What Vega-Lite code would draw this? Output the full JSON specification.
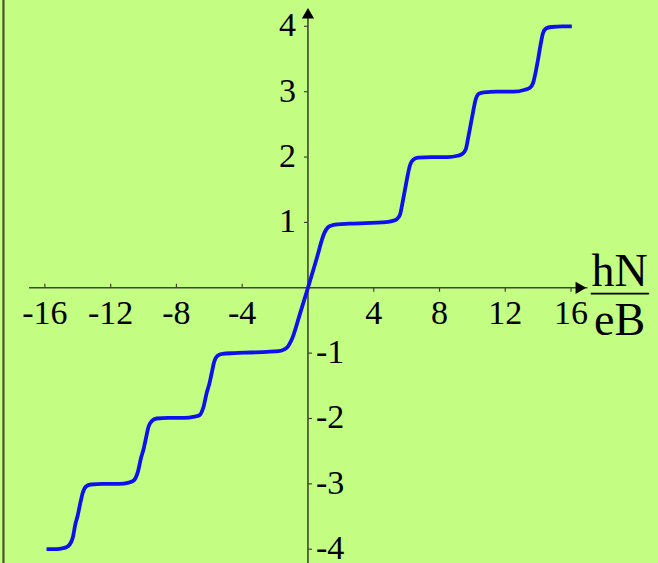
{
  "$schema": "https://vega.github.io/schema/vega-lite/v6.json",
  "width": 658,
  "height": 563,
  "autosize": "none",
  "padding": 0,
  "background": "#c3fd82",
  "config": {"view": {"stroke": null}, "font": "Liberation Serif"},
  "datasets": {
    "curve": [
      {"x": -15.9, "y": -4.0}, {"x": -15.5, "y": -4.0}, {"x": -15.0, "y": -3.99}, {"x": -14.7, "y": -3.97},
      {"x": -14.5, "y": -3.93}, {"x": -14.3, "y": -3.82}, {"x": -14.15, "y": -3.62}, {"x": -14.0, "y": -3.48},
      {"x": -13.85, "y": -3.3}, {"x": -13.7, "y": -3.14}, {"x": -13.5, "y": -3.04}, {"x": -13.2, "y": -3.01},
      {"x": -12.5, "y": -3.0}, {"x": -11.5, "y": -3.0}, {"x": -10.9, "y": -2.98},
      {"x": -10.6, "y": -2.95}, {"x": -10.35, "y": -2.82}, {"x": -10.15, "y": -2.6}, {"x": -10.0, "y": -2.47},
      {"x": -9.85, "y": -2.3}, {"x": -9.7, "y": -2.13}, {"x": -9.5, "y": -2.04}, {"x": -9.2, "y": -2.0},
      {"x": -8.5, "y": -1.99}, {"x": -7.5, "y": -1.99}, {"x": -6.9, "y": -1.97},
      {"x": -6.6, "y": -1.95}, {"x": -6.35, "y": -1.82}, {"x": -6.15, "y": -1.6}, {"x": -6.0, "y": -1.47},
      {"x": -5.85, "y": -1.3}, {"x": -5.7, "y": -1.13}, {"x": -5.5, "y": -1.04}, {"x": -5.2, "y": -1.01},
      {"x": -4.5, "y": -1.0}, {"x": -3.5, "y": -0.99}, {"x": -2.5, "y": -0.98}, {"x": -1.8, "y": -0.97},
      {"x": -1.5, "y": -0.95}, {"x": -1.3, "y": -0.92}, {"x": -1.15, "y": -0.87}, {"x": -1.0, "y": -0.8},
      {"x": -0.5, "y": -0.41}, {"x": 0.0, "y": 0.0}, {"x": 0.5, "y": 0.42}, {"x": 1.0, "y": 0.84},
      {"x": 1.2, "y": 0.92}, {"x": 1.4, "y": 0.95}, {"x": 1.8, "y": 0.97}, {"x": 2.5, "y": 0.98},
      {"x": 3.5, "y": 0.99}, {"x": 4.5, "y": 1.0}, {"x": 5.1, "y": 1.02},
      {"x": 5.4, "y": 1.05}, {"x": 5.6, "y": 1.12}, {"x": 5.75, "y": 1.3}, {"x": 5.9, "y": 1.5},
      {"x": 6.05, "y": 1.7}, {"x": 6.2, "y": 1.87}, {"x": 6.4, "y": 1.96}, {"x": 6.7, "y": 1.99},
      {"x": 7.5, "y": 2.0}, {"x": 8.5, "y": 2.0}, {"x": 9.1, "y": 2.02},
      {"x": 9.4, "y": 2.05}, {"x": 9.6, "y": 2.12}, {"x": 9.75, "y": 2.3}, {"x": 9.9, "y": 2.5},
      {"x": 10.05, "y": 2.7}, {"x": 10.2, "y": 2.88}, {"x": 10.4, "y": 2.97}, {"x": 10.7, "y": 2.99},
      {"x": 11.5, "y": 3.0}, {"x": 12.5, "y": 3.0}, {"x": 13.2, "y": 3.03},
      {"x": 13.5, "y": 3.06}, {"x": 13.7, "y": 3.14}, {"x": 13.85, "y": 3.3}, {"x": 14.0, "y": 3.5},
      {"x": 14.15, "y": 3.72}, {"x": 14.3, "y": 3.9}, {"x": 14.5, "y": 3.97}, {"x": 14.8, "y": 3.99},
      {"x": 15.5, "y": 4.0}, {"x": 16.05, "y": 4.0}
    ],
    "xneg": [{"v": -16, "label": "-16"}, {"v": -12, "label": "-12"}, {"v": -8, "label": "-8"}, {"v": -4, "label": "-4"}],
    "xpos": [{"v": 4, "label": "4"}, {"v": 8, "label": "8"}, {"v": 12, "label": "12"}, {"v": 16, "label": "16"}],
    "ypos": [{"v": 1, "label": "1"}, {"v": 2, "label": "2"}, {"v": 3, "label": "3"}, {"v": 4, "label": "4"}],
    "yneg": [{"v": -1, "label": "-1"}, {"v": -2, "label": "-2"}, {"v": -3, "label": "-3"}, {"v": -4, "label": "-4"}]
  },
  "layer": [
    {
      "data": {"values": [{}]},
      "mark": {"type": "rule", "color": "#4a5630", "strokeWidth": 2.2},
      "encoding": {
        "x": {"datum": -18.52, "type": "quantitative", "scale": {"domain": [-18.73, 21.29], "nice": false, "zero": false}, "axis": null},
        "y": {"datum": -4.211, "type": "quantitative", "scale": {"domain": [-4.211, 4.403], "nice": false, "zero": false}, "axis": null},
        "y2": {"datum": 4.403}
      }
    },
    {
      "data": {"values": [{}]},
      "mark": {"type": "rule", "color": "#3f4630", "strokeWidth": 1.6},
      "encoding": {
        "x": {"datum": -16.96, "type": "quantitative"},
        "x2": {"datum": 17.0},
        "y": {"datum": 0, "type": "quantitative"}
      }
    },
    {
      "data": {"values": [{}]},
      "mark": {"type": "rule", "color": "#3f4630", "strokeWidth": 1.6},
      "encoding": {
        "x": {"datum": 0, "type": "quantitative"},
        "y": {"datum": -4.211, "type": "quantitative"},
        "y2": {"datum": 4.2}
      }
    },
    {
      "data": {"values": [{}]},
      "mark": {"type": "point", "shape": "triangle-right", "filled": true, "color": "#000000", "size": 150, "opacity": 1},
      "encoding": {
        "x": {"datum": 16.6, "type": "quantitative"},
        "y": {"datum": 0, "type": "quantitative"}
      }
    },
    {
      "data": {"values": [{}]},
      "mark": {"type": "point", "shape": "triangle-up", "filled": true, "color": "#000000", "size": 150, "opacity": 1},
      "encoding": {
        "x": {"datum": 0, "type": "quantitative"},
        "y": {"datum": 4.2, "type": "quantitative"}
      }
    },
    {
      "data": {"name": "xneg"},
      "mark": {"type": "rule", "color": "#3f4630", "strokeWidth": 1.2, "y2Offset": -4},
      "encoding": {
        "x": {"field": "v", "type": "quantitative"},
        "y": {"datum": 0, "type": "quantitative"},
        "y2": {"datum": 0}
      }
    },
    {
      "data": {"name": "xpos"},
      "mark": {"type": "rule", "color": "#3f4630", "strokeWidth": 1.2, "y2Offset": 4},
      "encoding": {
        "x": {"field": "v", "type": "quantitative"},
        "y": {"datum": 0, "type": "quantitative"},
        "y2": {"datum": 0}
      }
    },
    {
      "data": {"name": "ypos"},
      "mark": {"type": "rule", "color": "#3f4630", "strokeWidth": 1.2, "x2Offset": -4},
      "encoding": {
        "y": {"field": "v", "type": "quantitative"},
        "x": {"datum": 0, "type": "quantitative"},
        "x2": {"datum": 0}
      }
    },
    {
      "data": {"name": "yneg"},
      "mark": {"type": "rule", "color": "#3f4630", "strokeWidth": 1.2, "x2Offset": 4},
      "encoding": {
        "y": {"field": "v", "type": "quantitative"},
        "x": {"datum": 0, "type": "quantitative"},
        "x2": {"datum": 0}
      }
    },
    {
      "data": {"name": "curve"},
      "mark": {"type": "line", "color": "#0f10ee", "strokeWidth": 3.8, "interpolate": "monotone"},
      "encoding": {
        "x": {"field": "x", "type": "quantitative"},
        "y": {"field": "y", "type": "quantitative"}
      }
    },
    {
      "data": {"name": "xneg"},
      "mark": {"type": "text", "font": "Liberation Serif", "fontSize": 34, "color": "#000000", "align": "center", "baseline": "alphabetic", "dy": 36},
      "encoding": {
        "x": {"field": "v", "type": "quantitative"},
        "y": {"datum": 0, "type": "quantitative"},
        "text": {"field": "label"}
      }
    },
    {
      "data": {"name": "xpos"},
      "mark": {"type": "text", "font": "Liberation Serif", "fontSize": 34, "color": "#000000", "align": "center", "baseline": "alphabetic", "dy": 36},
      "encoding": {
        "x": {"field": "v", "type": "quantitative"},
        "y": {"datum": 0, "type": "quantitative"},
        "text": {"field": "label"}
      }
    },
    {
      "data": {"name": "ypos"},
      "mark": {"type": "text", "font": "Liberation Serif", "fontSize": 34, "color": "#000000", "align": "right", "baseline": "middle", "dx": -12},
      "encoding": {
        "y": {"field": "v", "type": "quantitative"},
        "x": {"datum": 0, "type": "quantitative"},
        "text": {"field": "label"}
      }
    },
    {
      "data": {"name": "yneg"},
      "mark": {"type": "text", "font": "Liberation Serif", "fontSize": 34, "color": "#000000", "align": "left", "baseline": "middle", "dx": 8},
      "encoding": {
        "y": {"field": "v", "type": "quantitative"},
        "x": {"datum": 0, "type": "quantitative"},
        "text": {"field": "label"}
      }
    },
    {
      "data": {"values": [{}]},
      "mark": {"type": "text", "text": "hN", "font": "Liberation Serif", "fontSize": 46, "color": "#000000", "align": "center", "baseline": "alphabetic"},
      "encoding": {
        "x": {"datum": 18.95, "type": "quantitative"},
        "y": {"datum": 0.03, "type": "quantitative"}
      }
    },
    {
      "data": {"values": [{}]},
      "mark": {"type": "rule", "color": "#000000", "strokeWidth": 1.6},
      "encoding": {
        "x": {"datum": 17.2, "type": "quantitative"},
        "x2": {"datum": 20.75},
        "y": {"datum": -0.09, "type": "quantitative"}
      }
    },
    {
      "data": {"values": [{}]},
      "mark": {"type": "text", "text": "eB", "font": "Liberation Serif", "fontSize": 46, "color": "#000000", "align": "center", "baseline": "alphabetic"},
      "encoding": {
        "x": {"datum": 18.95, "type": "quantitative"},
        "y": {"datum": -0.73, "type": "quantitative"}
      }
    }
  ]
}
